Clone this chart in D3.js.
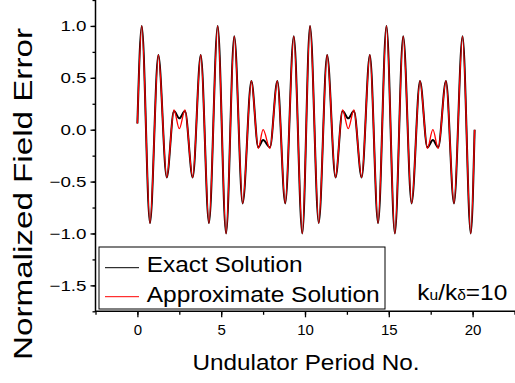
<!DOCTYPE html>
<html lang="en">
<head>
<meta charset="UTF-8">
<title>Normalized Field Error</title>
<script src="https://d3js.org/d3.v7.min.js"></script>
<style>
  body { margin: 0; background: #fff; }
  svg { font-family: "Liberation Sans", Arial, sans-serif; }
  .axis path, .axis line { stroke: #000; }
</style>
</head>
<body>
<svg id="chart" width="515" height="383"></svg>
<script>
// extrema of the two curves
const periodNo = [0, 0.26, 0.75, 1.25, 1.75, 2.18, 2.5, 2.84, 3.3, 3.78, 4.27, 4.79, 5.29, 5.78, 6.28, 6.8,
  7.21, 7.5, 7.91, 8.35, 8.82, 9.33, 9.84, 10.3, 10.82, 11.32, 11.82, 12.24, 12.58, 12.92, 13.38, 13.87,
  14.36, 14.86, 15.36, 15.86, 16.36, 16.86, 17.3, 17.63, 17.95, 18.41, 18.89, 19.4, 19.89, 20.12];
const exactErr = [0.06, 1.0, -0.90, 0.72, -0.46, 0.18, 0.11, 0.18, -0.46, 0.72, -0.90, 1.0, -1.0, 0.90, -0.71, 0.47,
  -0.17, -0.10, -0.17, 0.47, -0.71, 0.90, -1.0, 1.0, -0.90, 0.72, -0.46, 0.18, 0.11, 0.18, -0.46, 0.72,
  -0.90, 1.0, -1.0, 0.90, -0.71, 0.47, -0.17, -0.10, -0.17, 0.47, -0.71, 0.90, -1.0, 0.0];
const approxErr = [0.06, 1.0, -0.90, 0.72, -0.46, 0.19, 0.01, 0.19, -0.46, 0.72, -0.90, 1.0, -1.0, 0.90, -0.71, 0.47,
  -0.18, 0.0, -0.18, 0.47, -0.71, 0.90, -1.0, 1.0, -0.90, 0.72, -0.46, 0.19, 0.01, 0.19, -0.46, 0.72,
  -0.90, 1.0, -1.0, 0.90, -0.71, 0.47, -0.18, 0.0, -0.18, 0.47, -0.71, 0.90, -1.0, 0.0];

const xTicks = [0, 5, 10, 15, 20];
const yTicks = [-1.5, -1.0, -0.5, 0.0, 0.5, 1.0];
const seriesNames = ["Exact Solution", "Approximate Solution"];
const seriesColors = ["#000", "#f00"];

const svg = d3.select("#chart");

const x = d3.scaleLinear().domain([-2.5, 22.5]).range([95.5, 514.5]);
const y = d3.scaleLinear().domain([-1.75, 1.25]).range([311.3, 0]);

function stretch(sel, k) {
  sel.each(function() {
    const w = this.getComputedTextLength();
    this.setAttribute("textLength", w * k);
    this.setAttribute("lengthAdjust", "spacingAndGlyphs");
  });
}

// minor ticks
svg.append("g").attr("class", "axis")
  .attr("transform", "translate(0,311.3)")
  .call(d3.axisBottom(x).tickValues(d3.range(-2.5, 22.6, 2.5)).tickSize(3.5).tickFormat("").tickSizeOuter(0))
  .call(g => g.select(".domain").remove())
  .selectAll("line").attr("stroke-width", 1.3);

svg.append("g").attr("class", "axis")
  .attr("transform", "translate(95.5,0)")
  .call(d3.axisLeft(y).tickValues(d3.range(-1.75, 1.26, 0.25)).tickSize(3).tickFormat("").tickSizeOuter(0))
  .call(g => g.select(".domain").remove())
  .selectAll("line").attr("stroke-width", 1.3);

// major ticks + labels
const xAxis = svg.append("g").attr("class", "axis")
  .attr("transform", "translate(0,311.3)")
  .call(d3.axisBottom(x).tickValues(xTicks).tickSize(6).tickSizeOuter(0).tickFormat(d3.format("d")));
xAxis.select(".domain").remove();
xAxis.selectAll("line").attr("stroke-width", 1.3);
xAxis.selectAll("text").attr("y", 13).attr("font-size", 15).attr("font-family", null);

const yAxis = svg.append("g").attr("class", "axis")
  .attr("transform", "translate(95.5,0)")
  .call(d3.axisLeft(y).tickValues(yTicks).tickSize(5).tickSizeOuter(0).tickFormat(d3.format(".1f")));
yAxis.select(".domain").remove();
yAxis.selectAll("line").attr("stroke-width", 1.3);
yAxis.selectAll("text").attr("x", -9).attr("font-size", 15).attr("font-family", null);
stretch(yAxis.selectAll("text"), 1.25);

// axis lines
svg.append("line").attr("x1", 95.5).attr("x2", 95.5).attr("y1", 0).attr("y2", 312)
  .attr("stroke", "#000").attr("stroke-width", 1.5);
svg.append("line").attr("x1", 95).attr("x2", 515).attr("y1", 311.3).attr("y2", 311.3)
  .attr("stroke", "#000").attr("stroke-width", 1.5);

// curves
const pts = (vals) => periodNo.map((t, i) => [t, vals[i]]);
const line = d3.line().x(d => x(d[0])).y(d => y(d[1])).curve(d3.curveMonotoneX);

svg.append("path").datum(pts(exactErr))
  .attr("d", line).attr("fill", "none").attr("stroke", seriesColors[0]).attr("stroke-width", 2);
svg.append("path").datum(pts(approxErr))
  .attr("d", line).attr("fill", "none").attr("stroke", seriesColors[1]).attr("stroke-width", 1.3);

// legend
svg.append("rect").attr("x", 99).attr("y", 247).attr("width", 286).attr("height", 62)
  .attr("fill", "#fff").attr("stroke", "#000").attr("stroke-width", 1);

const legendRows = [267.7, 296.7];
seriesNames.forEach((name, i) => {
  svg.append("line").attr("x1", 105).attr("x2", 139)
    .attr("y1", legendRows[i]).attr("y2", legendRows[i])
    .attr("stroke", seriesColors[i]).attr("stroke-width", 1);
  svg.append("text").attr("x", 146.7).attr("y", legendRows[i] + 4.5 + i * 0.5)
    .attr("font-size", 22).text(name)
    .attr("textLength", i === 0 ? 156 : 233).attr("lengthAdjust", "spacingAndGlyphs");
});

// ratio annotation
const note = svg.append("text").attr("x", 417.3).attr("y", 300).attr("font-size", 22);
note.append("tspan").text("k");
note.append("tspan").attr("font-size", 14).text("u");
note.append("tspan").text("/k");
note.append("tspan").attr("font-size", 14).text("δ");
note.append("tspan").text("=10");
note.attr("textLength", 90).attr("lengthAdjust", "spacingAndGlyphs");

// axis titles
svg.append("text").attr("x", 306).attr("y", 370).attr("text-anchor", "middle")
  .attr("font-size", 22).text("Undulator Period No.")
  .attr("textLength", 227).attr("lengthAdjust", "spacingAndGlyphs");

svg.append("text").attr("transform", "translate(32,194) rotate(-90)").attr("text-anchor", "middle")
  .attr("font-size", 26).text("Normalized Field Error")
  .attr("textLength", 332).attr("lengthAdjust", "spacingAndGlyphs");
</script>
</body>
</html>
